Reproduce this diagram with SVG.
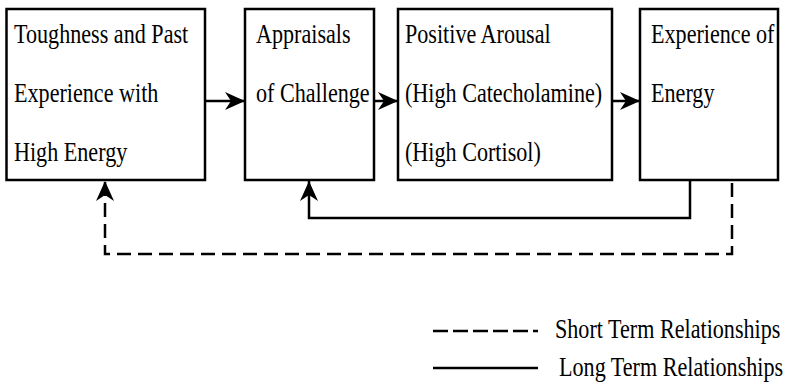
<svg xmlns="http://www.w3.org/2000/svg" width="788" height="386" viewBox="0 0 788 386">
<style>
.box{fill:#fff;stroke:#000;stroke-width:2.5}
.ln{fill:none;stroke:#000;stroke-width:2.5}
.dash{stroke-dasharray:14 7}
</style>
<defs>
<marker id="ah" markerUnits="userSpaceOnUse" viewBox="0 0 20 18" refX="20" refY="9" markerWidth="20" markerHeight="18" orient="auto">
<path d="M0,0 L20,9 L0,18 L6,9 Z" fill="#000"/>
</marker>
</defs>
<rect width="788" height="386" fill="#fff"/>
<g id="connectors">
<line class="ln" x1="205" y1="101" x2="245" y2="101" marker-end="url(#ah)"/>
<line class="ln" x1="374" y1="101" x2="398" y2="101" marker-end="url(#ah)"/>
<line class="ln" x1="612" y1="101" x2="640" y2="101" marker-end="url(#ah)"/>
<polyline class="ln" points="690,180 690,218 309,218 309,181" marker-end="url(#ah)"/>
<polyline class="ln dash" points="732,183 732,254 105,254 105,181" marker-end="url(#ah)"/>
</g>
<g font-family="Liberation Serif, DejaVu Serif, serif" font-size="27" fill="#000">
<g id="n1">
<rect class="box" x="6.5" y="9" width="198.5" height="171"/>
<text transform="translate(14,43) scale(0.82,1)">Toughness and Past</text>
<text transform="translate(14,102) scale(0.82,1)">Experience with</text>
<text transform="translate(14,161) scale(0.82,1)">High Energy</text>
</g>
<g id="n2">
<rect class="box" x="245" y="9" width="129" height="171"/>
<text transform="translate(256,43) scale(0.82,1)">Appraisals</text>
<text transform="translate(256,102) scale(0.82,1)">of Challenge</text>
</g>
<g id="n3">
<rect class="box" x="398" y="9" width="214" height="171"/>
<text transform="translate(405,43) scale(0.82,1)">Positive Arousal</text>
<text transform="translate(405,102) scale(0.82,1)">(High Catecholamine)</text>
<text transform="translate(405,161) scale(0.82,1)">(High Cortisol)</text>
</g>
<g id="n4">
<rect class="box" x="640" y="9" width="138" height="171"/>
<text transform="translate(651,43) scale(0.82,1)">Experience of</text>
<text transform="translate(651,102) scale(0.82,1)">Energy</text>
</g>
<g id="legend">
<line class="ln" x1="433" y1="331" x2="538" y2="331" stroke-dasharray="15 5"/>
<line class="ln" x1="433" y1="368" x2="538" y2="368"/>
<text transform="translate(555,338) scale(0.82,1)">Short Term Relationships</text>
<text transform="translate(559,376) scale(0.82,1)">Long Term Relationships</text>
</g>
</g>
</svg>
